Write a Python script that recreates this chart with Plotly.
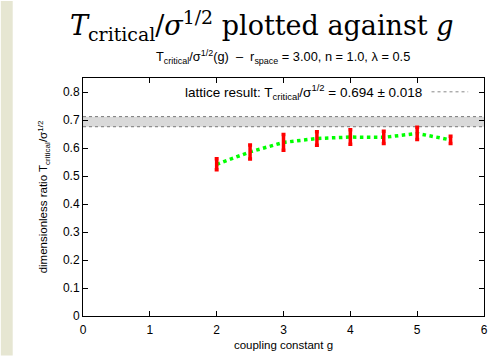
import plotly.graph_objects as go

g_vals = [2.0, 2.5, 3.0, 3.5, 4.0, 4.5, 5.0, 5.5]
ratio = [0.542, 0.586, 0.620, 0.634, 0.639, 0.638, 0.652, 0.629]
ratio_err = [0.020, 0.025, 0.028, 0.024, 0.026, 0.022, 0.022, 0.013]

lattice_val = 0.694
lattice_err = 0.018
band_x = [0, 6]

x_ticks = [0, 1, 2, 3, 4, 5, 6]
y_ticks = [0, 0.1, 0.2, 0.3, 0.4, 0.5, 0.6, 0.7, 0.8]
y_tick_text = ["0", "0.1", "0.2", "0.3", "0.4", "0.5", "0.6", "0.7", "0.8"]

W, H = 498, 359
ml, mr, mt, mb = 83, 10, 78, 40
pw = W - ml - mr
ph = H - mt - mb

fig = go.Figure()

lo = [lattice_val - lattice_err] * 2
hi = [lattice_val + lattice_err] * 2
fig.add_trace(go.Scatter(x=band_x, y=lo, mode="lines",
                         line=dict(color="#777777", width=1, dash="dot"),
                         hoverinfo="skip", showlegend=False))
fig.add_trace(go.Scatter(x=band_x, y=hi, mode="lines", fill="tonexty",
                         fillcolor="#d9d9d9",
                         line=dict(color="#777777", width=1, dash="dot"),
                         hoverinfo="skip", showlegend=False))

fig.add_trace(go.Scatter(x=g_vals, y=ratio, mode="lines",
                         line=dict(color="#00ff00", width=3.5, dash="dot"),
                         showlegend=False))
fig.add_trace(go.Scatter(x=g_vals, y=ratio, mode="markers",
                         marker=dict(size=1, color="red"),
                         error_y=dict(type="data", array=ratio_err, color="red",
                                      thickness=3.5, width=2),
                         showlegend=False))

# beige strip at far left
fig.add_shape(type="rect", xref="paper", yref="paper",
              x0=-ml / pw, x1=(12 - ml) / pw, y0=-mb / ph, y1=1 + mt / ph,
              fillcolor="#e6e6d2", line=dict(width=0), layer="below")

# legend-like key
fig.add_annotation(xref="paper", yref="paper",
                   x=(427 - ml) / pw, y=1 - (92 - mt) / ph,
                   xanchor="right", yanchor="middle", showarrow=False,
                   text="lattice result: T<sub>critical</sub>/σ<sup>1/2</sup> = 0.694 ± 0.018",
                   font=dict(family="Liberation Sans, Arial", size=13.5, color="black"))
fig.add_shape(type="line", xref="paper", yref="paper",
              x0=(435 - ml) / pw, x1=(472 - ml) / pw,
              y0=1 - (92 - mt) / ph, y1=1 - (92 - mt) / ph,
              line=dict(color="#888888", width=1, dash="dot"))

fig.add_annotation(xref="paper", yref="paper", x=(264 - ml) / pw, y=1 + (mt - 25) / ph,
                   xanchor="center", yanchor="middle", showarrow=False,
                   text="<i>T</i><sub>critical</sub>/<i>σ</i><sup>1/2</sup> plotted against <i>g</i>",
                   font=dict(family="DejaVu Serif, serif", size=27, color="black"))
fig.add_annotation(xref="paper", yref="paper", x=(285 - ml) / pw, y=1 + (mt - 57) / ph,
                   xanchor="center", yanchor="middle", showarrow=False,
                   text="T<sub>critical</sub>/σ<sup>1/2</sup>(g)  –  r<sub>space</sub> = 3.00, n = 1.0, λ = 0.5",
                   font=dict(family="Liberation Sans, Arial", size=12.8, color="black"))

axis_common = dict(showline=True, linecolor="black", linewidth=1, mirror="allticks",
                   ticks="inside", ticklen=5, tickcolor="black", showgrid=False,
                   zeroline=False,
                   tickfont=dict(family="Liberation Sans, Arial", size=12, color="black"))

fig.update_xaxes(range=[0, 6], tickvals=x_ticks, ticklabelstandoff=3, **axis_common,
                 title=dict(text="coupling constant g", standoff=4,
                            font=dict(family="Liberation Sans, Arial", size=11.5, color="black")))
fig.update_yaxes(range=[0, 0.85], tickvals=y_ticks, ticktext=y_tick_text, **axis_common,
                 title=dict(text="dimensionless ratio T<sub>critical</sub>/σ<sup>1/2</sup>", standoff=12,
                            font=dict(family="Liberation Sans, Arial", size=11.5, color="black")))

fig.update_layout(width=W, height=H, margin=dict(l=ml, r=mr, t=mt, b=mb),
                  paper_bgcolor="white", plot_bgcolor="white", showlegend=False)

fig.write_html("out.html")
